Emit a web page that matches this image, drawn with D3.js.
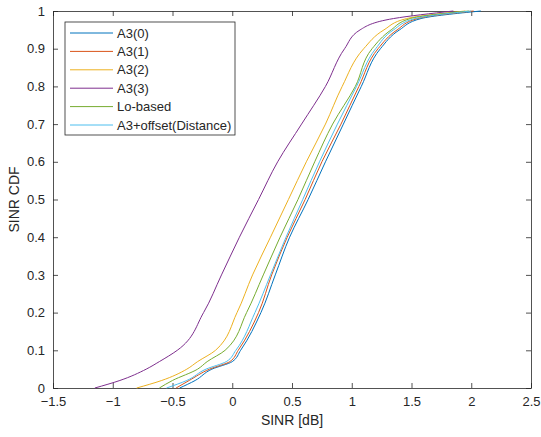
<!DOCTYPE html>
<html>
<head>
<meta charset="utf-8">
<script src="https://cdn.jsdelivr.net/npm/d3@7"></script>
<style>
  body { margin: 0; background: #fff; }
  svg text { font-family: "Liberation Sans", Arial, sans-serif; fill: #262626; }
</style>
</head>
<body>
<div id="chart"></div>
<script>
// cdf levels shared by all series
const cdfLevels = [0, 0.02, 0.05, 0.07, 0.1, 0.2, 0.3, 0.4, 0.5, 0.6, 0.7, 0.8, 0.9, 0.95, 0.98, 1];

const seriesNames = ['A3(0)', 'A3(1)', 'A3(2)', 'A3(3)', 'Lo-based', 'A3+offset(Distance)'];
const seriesColors = ['#0072BD', '#D95319', '#EDB120', '#7E2F8E', '#77AC30', '#4DBEEE'];

// SINR [dB] at each cdf level
const sinrA30 = [-0.44, -0.31, -0.17, 0.00, 0.07, 0.24, 0.36, 0.48, 0.635, 0.78, 0.93, 1.08, 1.24, 1.40, 1.58, 2.08];
const sinrA31 = [-0.47, -0.36, -0.19, -0.02, 0.05, 0.22, 0.33, 0.46, 0.61, 0.75, 0.91, 1.06, 1.22, 1.38, 1.55, 2.02];
const sinrA32 = [-0.80, -0.59, -0.38, -0.29, -0.14, 0.04, 0.17, 0.32, 0.47, 0.62, 0.78, 0.92, 1.10, 1.27, 1.46, 1.95];
const sinrA33 = [-1.15, -0.94, -0.72, -0.61, -0.46, -0.24, -0.09, 0.06, 0.22, 0.38, 0.58, 0.78, 0.94, 1.07, 1.35, 1.85];
const sinrLo  = [-0.61, -0.50, -0.29, -0.21, -0.06, 0.12, 0.26, 0.40, 0.55, 0.69, 0.84, 1.03, 1.17, 1.33, 1.49, 1.98];
const sinrOff = [-0.55, -0.38, -0.22, -0.05, 0.03, 0.19, 0.32, 0.45, 0.59, 0.73, 0.88, 1.04, 1.20, 1.35, 1.53, 2.00];

const allSinr = [sinrA30, sinrA31, sinrA32, sinrA33, sinrLo, sinrOff];

const xTicks = [-1.5, -1, -0.5, 0, 0.5, 1, 1.5, 2, 2.5];
const yTicks = [0, 0.1, 0.2, 0.3, 0.4, 0.5, 0.6, 0.7, 0.8, 0.9, 1];

const config = {
  width: 541, height: 437,
  margin: { top: 11, right: 10, bottom: 49, left: 53 }
};

const innerW = config.width - config.margin.left - config.margin.right;
const innerH = config.height - config.margin.top - config.margin.bottom;

const svg = d3.select('#chart').append('svg')
  .attr('width', config.width)
  .attr('height', config.height);

const g = svg.append('g')
  .attr('transform', `translate(${config.margin.left},${config.margin.top})`);

const xScale = d3.scaleLinear().domain([-1.5, 2.5]).range([0, innerW]);
const yScale = d3.scaleLinear().domain([0, 1]).range([innerH, 0]);

const axisColor = '#262626';
const tickLen = 5;

// ticks point inward on all four sides (box on)
const xAxis = g.append('g')
  .attr('transform', `translate(0,${innerH})`)
  .call(d3.axisBottom(xScale).tickValues(xTicks).tickSizeInner(-tickLen).tickSizeOuter(0)
    .tickPadding(9).tickFormat(d3.format('')));
const yAxis = g.append('g')
  .call(d3.axisLeft(yScale).tickValues(yTicks).tickSizeInner(-tickLen).tickSizeOuter(0)
    .tickPadding(8).tickFormat(d3.format('')));
const xTop = g.append('g')
  .call(d3.axisTop(xScale).tickValues(xTicks).tickSizeInner(-tickLen).tickSizeOuter(0).tickFormat(''));
const yRight = g.append('g')
  .attr('transform', `translate(${innerW},0)`)
  .call(d3.axisRight(yScale).tickValues(yTicks).tickSizeInner(-tickLen).tickSizeOuter(0).tickFormat(''));

[xAxis, yAxis, xTop, yRight].forEach(a => {
  a.selectAll('path, line').attr('stroke', axisColor).attr('stroke-width', 0.8);
  a.selectAll('text').style('font-size', '13px').attr('fill', axisColor);
});

// cdf curves
const line = d3.line()
  .x(d => xScale(d[0]))
  .y(d => yScale(d[1]))
  .curve(d3.curveMonotoneY);

allSinr.forEach((vals, i) => {
  g.append('path')
    .datum(vals.map((v, k) => [v, cdfLevels[k]]))
    .attr('fill', 'none')
    .attr('stroke', seriesColors[i])
    .attr('stroke-width', 1)
    .attr('d', line);
});

// axis labels
svg.append('text')
  .attr('x', config.margin.left + xScale(0.5))
  .attr('y', 425)
  .attr('text-anchor', 'middle')
  .style('font-size', '14px')
  .text('SINR [dB]');

svg.append('text')
  .attr('transform', `translate(19,${config.margin.top + yScale(0.5)}) rotate(-90)`)
  .attr('text-anchor', 'middle')
  .style('font-size', '14px')
  .text('SINR CDF');

// legend
const legend = svg.append('g').attr('transform', 'translate(65,22)');
legend.append('rect')
  .attr('width', 170).attr('height', 113)
  .attr('fill', '#fff')
  .attr('stroke', axisColor)
  .attr('stroke-width', 0.8);

seriesNames.forEach((name, i) => {
  const y = 11 + i * 18.4;
  legend.append('line')
    .attr('x1', 5).attr('x2', 48)
    .attr('y1', y).attr('y2', y)
    .attr('stroke', seriesColors[i])
    .attr('stroke-width', 1);
  legend.append('text')
    .attr('x', 52).attr('y', y + 4.5)
    .style('font-size', '13px')
    .text(name);
});
</script>
</body>
</html>
